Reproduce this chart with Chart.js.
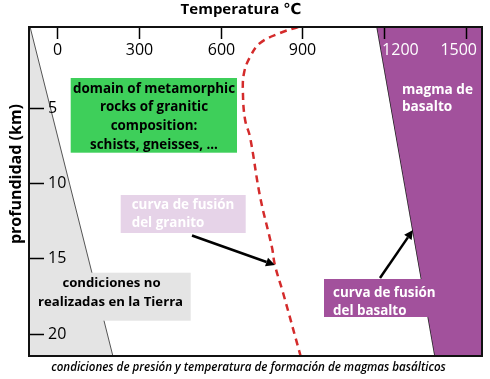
<!DOCTYPE html>
<html>
<head>
<meta charset="utf-8">
<script src="https://cdn.jsdelivr.net/npm/chart.js@4/dist/chart.umd.min.js"></script>
<style>
html,body{margin:0;padding:0;background:#fff;}
#wrap{position:relative;width:490px;height:379px;}
</style>
</head>
<body>
<div id="wrap"><canvas id="c" width="490" height="379"></canvas></div>
<script>
// ---- data (temperature °C, depth km) ----
const xTickValues = [0, 300, 600, 900, 1200, 1500];
const yTickValues = [5, 10, 15, 20];
const xRange = [-101, 1557];
const yRange = [-0.36, 21.47];

// granite melting curve (red dashed)
const graniteTemp  = [884, 818, 745, 708, 686, 682, 690, 708, 745, 788, 799, 829, 893];
const graniteDepth = [-0.36, 0.04, 0.70, 1.63, 2.69, 4.02, 5.81, 6.94, 10.92, 14.24, 15.44, 17.29, 21.47];

// limit of conditions not realised on Earth (grey region boundary)
const greyTemp  = [-97, 206];
const greyDepth = [-0.36, 21.47];

// basalt melting curve (purple region boundary)
const basaltTemp  = [1173, 1385];
const basaltDepth = [-0.36, 21.47];
// purple region corners
const basaltRegionTemp  = [1173, 1385, 1557];
const basaltRegionDepth = [-0.36, 21.47, 21.47];

const xTitle = 'Temperatura ℃';
const yTitle = 'profundidad (km)';
const caption = 'condiciones de presión y temperatura de formación de magmas basálticos';

const pts = (xs, ys) => xs.map((x, i) => ({x: x, y: ys[i]}));

const FONT = '"Open Sans", "DejaVu Sans", sans-serif';
const PURPLE = '#a2519c';
const GREY = '#e4e4e4';

const decor = {
  id: 'decor',
  afterDatasetsDraw(chart) {
    const ctx = chart.ctx;
    const xs = chart.scales.x, ys = chart.scales.y;
    const a = chart.chartArea;
    ctx.save();

    function box(x0, y0, x1, y1, color) {
      ctx.fillStyle = color;
      ctx.fillRect(x0, y0, x1 - x0, y1 - y0);
    }
    function setFont(opts) {
      ctx.font = (opts.style || '') + ' ' + (opts.weight || 'bold') + ' ' + (opts.size || 13) + 'px ' + FONT;
    }
    function text(t, x, y, opts) {
      setFont(opts);
      ctx.fillStyle = opts.color || '#000';
      ctx.textAlign = opts.align || 'center';
      ctx.textBaseline = 'middle';
      ctx.fillText(t, x, y);
    }
    // green box
    box(70.7, 78, 237, 152.7, '#3ecf5a');
    ['domain of metamorphic', 'rocks of granitic', 'composition:', 'schists, gneisses, ...']
      .forEach((t, i) => text(t, 154, 89 + i * 18.6, {size: 13.4}));
    // pink box
    box(120.7, 195, 245.7, 233, '#e6d3e8');
    text('curva de fusión', 131.7, 205, {align: 'left', color: '#fff', size: 13.4});
    text('del granito', 131.7, 223, {align: 'left', color: '#fff', size: 13.4});
    // grey box
    box(30, 272.7, 190.7, 320.7, GREY);
    text('condiciones no', 111.5, 283.5, {size: 13.2});
    text('realizadas en la Tierra', 110.5, 302.5, {size: 13.2});
    // purple box
    box(324, 279, 428, 317, PURPLE);
    text('curva de fusión', 333, 292.7, {align: 'left', color: '#fff', size: 13.4});
    text('del basalto', 333, 311, {align: 'left', color: '#fff', size: 13.4});
    // magma label
    text('magma de', 402, 90, {align: 'left', color: '#fff', size: 13.6});
    text('basalto', 402, 107.5, {align: 'left', color: '#fff', size: 13.6});

    // arrows
    function arrow(x0, y0, x1, y1) {
      ctx.strokeStyle = '#000';
      ctx.fillStyle = '#000';
      ctx.lineWidth = 2.5;
      const ang = Math.atan2(y1 - y0, x1 - x0);
      const hl = 9, hw = 4.5;
      const bx = x1 - hl * Math.cos(ang), by = y1 - hl * Math.sin(ang);
      ctx.beginPath(); ctx.moveTo(x0, y0); ctx.lineTo(bx, by); ctx.stroke();
      ctx.beginPath();
      ctx.moveTo(x1, y1);
      ctx.lineTo(bx + hw * Math.sin(ang), by - hw * Math.cos(ang));
      ctx.lineTo(bx - hw * Math.sin(ang), by + hw * Math.cos(ang));
      ctx.closePath(); ctx.fill();
    }
    arrow(192, 235.5, 275, 265);
    arrow(380, 278, 413, 230);

    // ticks (inside the plot)
    const purpleEdge = xs.getPixelForValue(basaltTemp[0]);
    ctx.strokeStyle = '#000';
    ctx.lineWidth = 1.5;
    xTickValues.forEach(v => {
      const px = Math.round(xs.getPixelForValue(v)) + 0.5;
      ctx.beginPath(); ctx.moveTo(px, a.top); ctx.lineTo(px, a.top + 12); ctx.stroke();
      const opts = {weight: 'normal', size: 16, color: v >= basaltTemp[0] ? '#fff' : '#000'};
      setFont(opts);
      const w = ctx.measureText(String(v)).width;
      let cx = px;
      if (v >= basaltTemp[0]) cx = Math.max(px, purpleEdge + 5 + w / 2);
      cx = Math.min(cx, a.right - 5 - w / 2);
      text(String(v), cx, 50, opts);
    });
    yTickValues.forEach(v => {
      const py = Math.round(ys.getPixelForValue(v)) + 0.5;
      ctx.beginPath(); ctx.moveTo(a.left, py); ctx.lineTo(a.left + 15, py); ctx.stroke();
      text(String(v), 48, py, {weight: 'normal', size: 16, align: 'left'});
    });

    // frame
    ctx.lineWidth = 2;
    ctx.strokeStyle = '#111';
    ctx.strokeRect(a.left, a.top, a.right - a.left, a.bottom - a.top);

    // titles
    text(xTitle, 241, 10, {size: 15});
    ctx.save();
    ctx.translate(16, 174);
    ctx.rotate(-Math.PI / 2);
    text(yTitle, 0, 0, {size: 16});
    ctx.restore();
    text(caption, 248.5, 368, {style: 'italic', weight: '600', size: 11.6});
    ctx.restore();
  }
};

new Chart(document.getElementById('c'), {
  type: 'scatter',
  data: {
    datasets: [
      {
        label: 'condiciones no realizadas',
        data: pts(greyTemp, greyDepth),
        showLine: true,
        borderColor: '#555',
        borderWidth: 1,
        backgroundColor: GREY,
        fill: 'start',
        pointRadius: 0
      },
      {
        label: 'magma de basalto',
        data: pts(basaltRegionTemp, basaltRegionDepth),
        showLine: true,
        borderWidth: 0,
        borderColor: 'rgba(0,0,0,0)',
        backgroundColor: PURPLE,
        fill: 'end',
        pointRadius: 0
      },
      {
        label: 'curva de fusión del basalto',
        data: pts(basaltTemp, basaltDepth),
        showLine: true,
        borderColor: '#222',
        borderWidth: 1.5,
        fill: false,
        pointRadius: 0
      },
      {
        label: 'curva de fusión del granito',
        data: pts(graniteTemp, graniteDepth),
        showLine: true,
        borderColor: '#d42b2b',
        borderWidth: 2.5,
        borderDash: [7, 5],
        tension: 0.4,
        fill: false,
        pointRadius: 0
      }
    ]
  },
  options: {
    responsive: false,
    animation: false,
    layout: {padding: {left: 29, top: 27, right: 8, bottom: 23}},
    plugins: {legend: {display: false}, tooltip: {enabled: false}, title: {display: false}},
    scales: {
      x: {type: 'linear', min: xRange[0], max: xRange[1], display: false},
      y: {type: 'linear', min: yRange[0], max: yRange[1], reverse: true, display: false}
    }
  },
  plugins: [decor]
});
</script>
</body>
</html>
